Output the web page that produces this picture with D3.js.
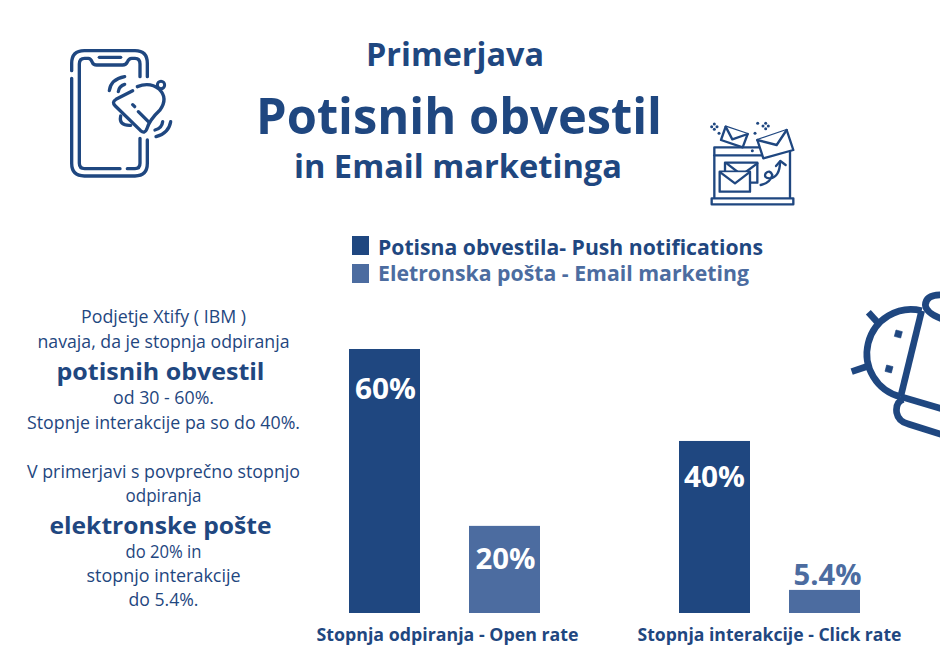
<!DOCTYPE html>
<html>
<head>
<meta charset="utf-8">
<script src="https://cdn.jsdelivr.net/npm/d3@7"></script>
<style>
  html, body { margin: 0; padding: 0; background: #fff; }
  svg { display: block; }
  text { font-family: "Open Sans", sans-serif; }
</style>
</head>
<body>
<div id="chart"></div>
<script>
const categories = ['Stopnja odpiranja - Open rate', 'Stopnja interakcije - Click rate'];
const seriesNames = ['Potisna obvestila- Push notifications', 'Eletronska pošta - Email marketing'];
const pushValues = [60, 39.1];   // bar heights as drawn, they run a bit short of their labels
const emailValues = [19.8, 5.25];
const pushLabels = ['60%', '40%'];
const emailLabels = ['20%', '5.4%'];
const titleLines = ['Primerjava', 'Potisnih obvestil', 'in Email marketinga'];
const introLines = [
  'Podjetje Xtify ( IBM )', 'navaja, da je stopnja odpiranja', 'potisnih obvestil', 'od 30 - 60%.',
  'Stopnje interakcije pa so do 40%.', 'V primerjavi s povprečno stopnjo', 'odpiranja',
  'elektronske pošte', 'do 20% in', 'stopnjo interakcije', 'do 5.4%.'
];

const dark = '#1f4780';
const light = '#4c6ca0';
const width = 940, height = 672;

const svg = d3.select('#chart').append('svg')
  .attr('width', width)
  .attr('height', height);

// open sans has other widths than the original face, so stretch each line to fit
function fitTo(sel, w) {
  sel.attr('textLength', w).attr('lengthAdjust', 'spacingAndGlyphs');
}

// Title
const titleStyle = [
  { x: 455, y: 66, size: 33, w: 178 },
  { x: 459, y: 134, size: 51, w: 406 },
  { x: 458, y: 178, size: 32, w: 328 }
];
titleLines.forEach((t, i) => {
  const s = titleStyle[i];
  svg.append('text')
    .attr('x', s.x).attr('y', s.y)
    .attr('text-anchor', 'middle')
    .attr('font-size', s.size).attr('font-weight', 700)
    .attr('fill', dark)
    .text(t)
    .call(fitTo, s.w);
});

// Intro text on the left
const introY = [323, 348, 380, 404, 429, 478, 502, 534, 558, 582, 606];
const introW = [165, 252, 208, 101, 273, 273, 76, 222, 76, 154, 70];
introLines.forEach((t, i) => {
  const big = i === 2 || i === 7;
  svg.append('text')
    .attr('x', big ? 160.5 : 163.5).attr('y', introY[i])
    .attr('text-anchor', 'middle')
    .attr('font-size', big ? 24 : 18)
    .attr('font-weight', big ? 700 : 400)
    .attr('fill', dark)
    .text(t)
    .call(fitTo, introW[i]);
});

// Legend
const legendY = d3.scaleOrdinal().domain(seriesNames).range([236, 264]);
const color = d3.scaleOrdinal().domain(seriesNames).range([dark, light]);
const legendW = [385, 371];
const legend = svg.append('g').selectAll('g').data(seriesNames).enter().append('g')
  .attr('transform', d => `translate(352,${legendY(d)})`);
legend.append('rect')
  .attr('width', 17).attr('height', 19)
  .attr('fill', d => color(d));
legend.append('text')
  .attr('x', 26).attr('y', (d, i) => 19 - i * 2)
  .attr('font-size', 21).attr('font-weight', 700)
  .attr('fill', d => color(d))
  .text(d => d)
  .each(function (d, i) { d3.select(this).call(fitTo, legendW[i]); });

// Scales
const y = d3.scaleLinear().domain([0, 60]).range([613, 349]);
const xPush = d3.scaleOrdinal().domain(categories).range([349, 679]);
const xEmail = d3.scaleOrdinal().domain(categories).range([469, 789]);
const xLabel = d3.scaleOrdinal().domain(categories).range([447, 769]);
const barWidth = 71;

// Bars for push notifications
svg.selectAll('.bar-push')
  .data(categories)
  .enter()
  .append('rect')
  .attr('class', 'bar-push')
  .attr('x', d => xPush(d))
  .attr('y', (d, i) => y(pushValues[i]))
  .attr('width', barWidth)
  .attr('height', (d, i) => y(0) - y(pushValues[i]))
  .attr('fill', dark);

// Bars for email
svg.selectAll('.bar-email')
  .data(categories)
  .enter()
  .append('rect')
  .attr('class', 'bar-email')
  .attr('x', d => xEmail(d))
  .attr('y', (d, i) => y(emailValues[i]))
  .attr('width', barWidth)
  .attr('height', (d, i) => y(0) - y(emailValues[i]))
  .attr('fill', light);

// Value labels, inside the bar except for the small one
svg.selectAll('.label-push')
  .data(categories)
  .enter()
  .append('text')
  .attr('x', (d, i) => xPush(d) + barWidth / 2 + (i ? 0 : 1))
  .attr('y', (d, i) => y(pushValues[i]) + 50 - i * 4)
  .attr('text-anchor', 'middle')
  .attr('font-size', 28).attr('font-weight', 700)
  .attr('fill', '#fff')
  .text((d, i) => pushLabels[i])
  .call(fitTo, 61);

svg.selectAll('.label-email')
  .data(categories)
  .enter()
  .append('text')
  .attr('x', (d, i) => xEmail(d) + barWidth / 2 + (i ? 3 : 1))
  .attr('y', (d, i) => i ? y(emailValues[i]) - 5 : y(emailValues[i]) + 43)
  .attr('text-anchor', 'middle')
  .attr('font-size', 28).attr('font-weight', 700)
  .attr('fill', (d, i) => i ? light : '#fff')
  .text((d, i) => emailLabels[i])
  .each(function (d, i) { d3.select(this).call(fitTo, i ? 68 : 60); });

// Category axis
const axis = svg.append('g')
  .attr('transform', 'translate(0,622)')
  .call(d3.axisBottom(xLabel).tickSize(0).tickPadding(0));
axis.select('.domain').remove();
axis.selectAll('text')
  .attr('y', 19).attr('dy', 0)
  .attr('font-size', 18).attr('font-weight', 700)
  .attr('fill', dark)
  .style('font-family', '"Open Sans", sans-serif')
  .each(function (d, i) { d3.select(this).call(fitTo, i ? 264 : 262); });

// Icons, drawn in 3x units
function icon(tx, ty) {
  return svg.append('g')
    .attr('transform', `translate(${tx},${ty}) scale(${1 / 3})`)
    .attr('fill', 'none')
    .attr('stroke', dark)
    .attr('stroke-linecap', 'round')
    .attr('stroke-linejoin', 'round');
}
function paths(g, list, sw, fill) {
  list.forEach(p => g.append('path').attr('d', p).attr('stroke-width', sw).attr('fill', fill || 'none'));
}

// Phone
const phone = icon(50, 30);
paths(phone, [
  'M65,145 V400 Q65,438 103,438 H255 Q292,438 292,400 V330',
  'M292,140 V100 Q292,62 255,62 H103 Q65,62 65,100 V122',
  'M210,416 H104 Q88,416 88,400 V102 Q88,85 104,85 H115 Q122,85 127,97 Q130,105 140,105 H218 Q228,105 232,96 Q236,85 245,85 H255 Q270,85 270,102 V140',
  'M270,325 V400 Q270,416 255,416 H232',
  'M148,82 H212'
], 10);

// Bell on the phone
const bell = icon(100, 70);
paths(bell, [
  'M98,62 L48,88 Q34,96 46,108 L122,182 Q134,192 140,178 Q148,150 180,120 Q205,85 178,58 Q150,35 112,50',
  'M62,138 Q56,168 92,166',
  'M98,104 L104,110',
  'M115,125 L145,155',
  'M28,62 Q32,28 74,20',
  'M55,65 Q57,48 74,43',
  'M212,155 Q206,190 168,200',
  'M188,155 Q186,175 165,180'
], 10);
bell.append('circle').attr('cx', 183).attr('cy', 45).attr('r', 11).attr('stroke-width', 9);

// Monitor with envelopes
const mail = icon(695, 110);
paths(mail, [
  'M58,262 V112 H285 V262',
  'M58,136 H200',
  'M50,265 H295 V283 H50 Z',
  'M197,225 Q225,220 232,195 Q225,178 212,190 Q205,205 225,205 Q255,200 255,155',
  'M243,168 L256,153 L272,165',
], 7);
paths(mail, [
  'M90,218 V158 H187 V218 H165',
  'M95,160 L140,195 L187,160'
], 7);
paths(mail, ['M74,185 H165 V245 H74 Z', 'M76,187 L120,220 L163,187'], 7, '#fff');
paths(mail, ['M92,50 L158,72 L143,112 L78,90 Z', 'M92,50 L112,88 L158,72'], 7, '#fff');
paths(mail, ['M187,90 L275,60 L295,120 L205,145 Z', 'M187,90 L245,105 L275,60'], 7, '#fff');
paths(mail, [
  'M58,42 L58,42', 'M50,50 L50,50', 'M66,50 L66,50', 'M58,58 L58,58', 'M72,70 L72,70',
  'M212,40 L212,40', 'M204,48 L204,48', 'M220,48 L220,48', 'M212,56 L212,56',
  'M188,40 L188,40', 'M180,70 L180,70', 'M172,122 L172,122'
], 9);

// Cropped bell on the right edge
const side = icon(840, 280).attr('stroke-linecap', 'butt').attr('stroke-linejoin', 'miter');
paths(side, [
  'M245,92 A132,132 0 0 0 182,350',
  'M245,92 L182,350',
  'M182,350 L310,388',
  'M190,358 Q166,366 170,398 Q175,425 205,432 L310,465',
  'M310,45 Q258,42 256,75 Q258,100 310,118',
  'M85,97 L115,130',
  'M35,275 L85,258'
], 20);
paths(side, ['M168,150 L187,155 L182,174 L163,169 Z', 'M140,255 L159,260 L154,279 L135,274 Z'], 2, dark);
</script>
</body>
</html>
